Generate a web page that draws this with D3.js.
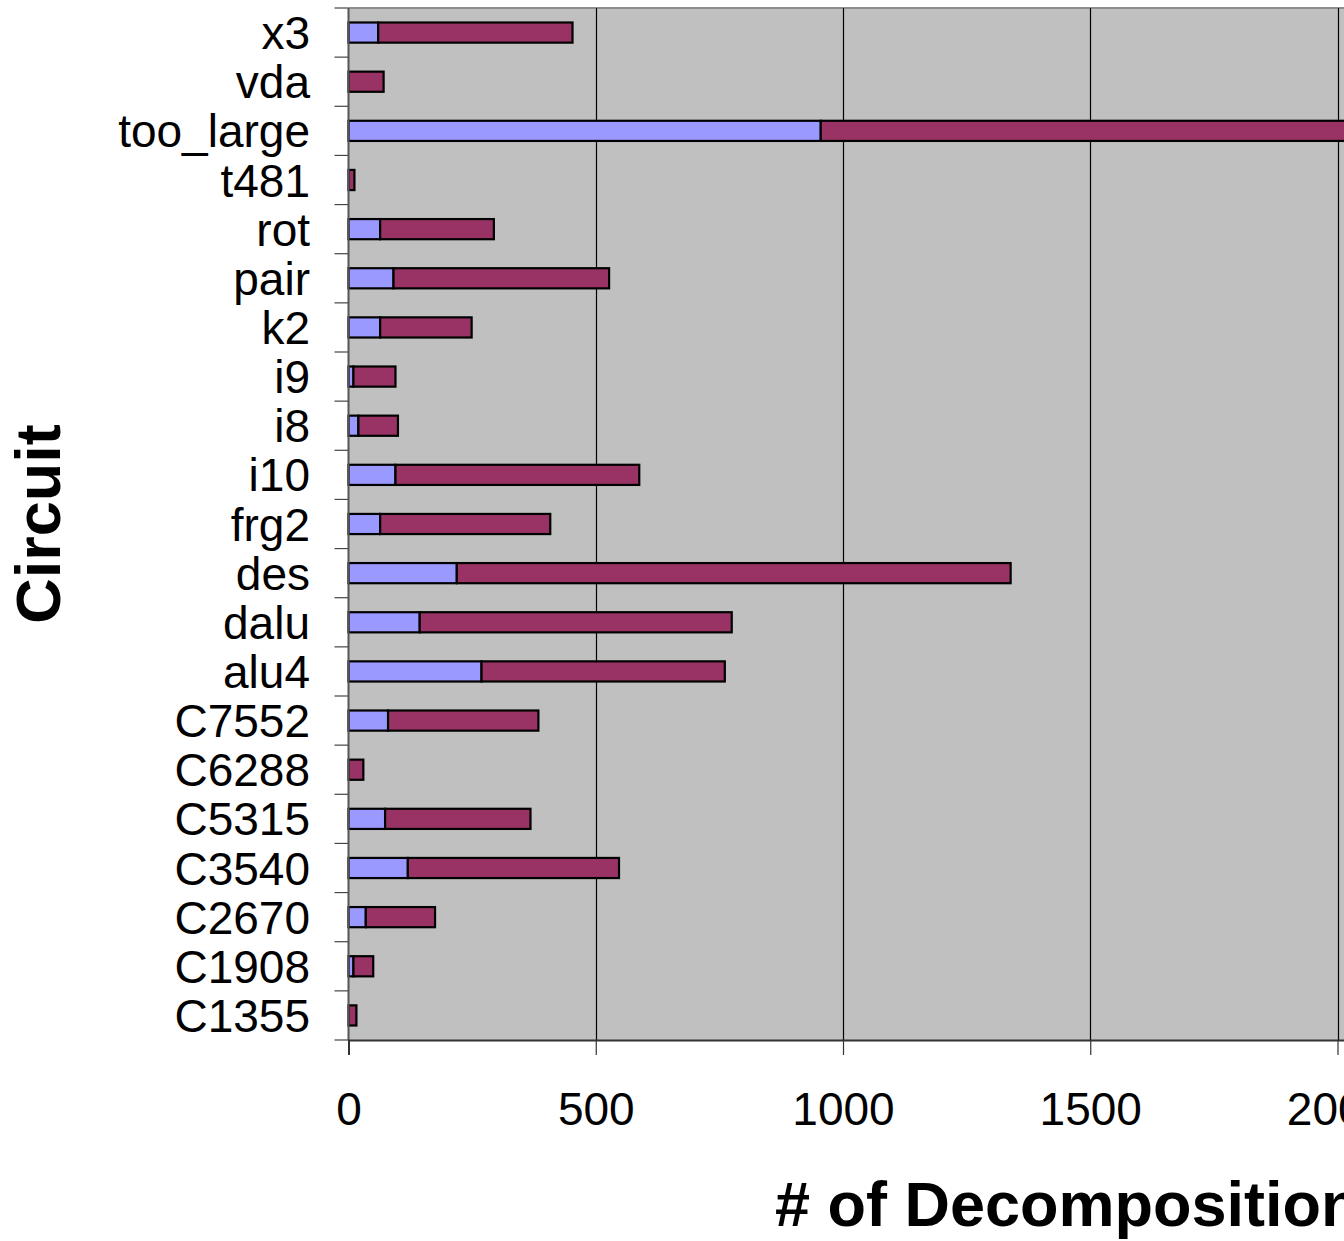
<!DOCTYPE html>
<html>
<head>
<meta charset="utf-8">
<script src="https://cdn.jsdelivr.net/npm/d3@7"></script>
<style>
  html, body { margin: 0; padding: 0; background: #ffffff; }
  svg { display: block; font-family: "Liberation Sans", Arial, sans-serif; }
</style>
</head>
<body>
<svg id="chart" width="1344" height="1241"></svg>
<script>
// Circuits, listed top to bottom
const circuits = ["x3", "vda", "too_large", "t481", "rot", "pair", "k2", "i9", "i8", "i10",
  "frg2", "des", "dalu", "alu4", "C7552", "C6288", "C5315", "C3540", "C2670", "C1908", "C1355"];

// First stacked segment (light blue)
const firstPart = [60, 0, 955, 0, 64, 91, 64, 10, 20, 95,
  64, 219, 144, 269, 80, 0, 74, 120, 35, 10, 0];

// Second stacked segment (plum), stacked after the first
const secondPart = [393, 71, 1500, 12, 230, 436, 185, 85, 80, 493,
  344, 1120, 631, 492, 304, 30, 294, 427, 140, 40, 16];

const xTicks = [0, 500, 1000, 1500, 2000, 2500, 3000];

const svg = d3.select("#chart");
const plot = { left: 348.5, top: 8, bottom: 1040, right: 1832 };

const x = d3.scaleLinear().domain([0, 3000]).range([plot.left, plot.right]);
const y = d3.scaleBand().domain(circuits).range([plot.top, plot.bottom])
  .paddingInner(0.59).paddingOuter(0.295);

// Plot background
svg.append("rect")
  .attr("x", plot.left).attr("y", plot.top)
  .attr("width", plot.right - plot.left).attr("height", plot.bottom - plot.top)
  .attr("fill", "#c0c0c0");

// Top frame line
svg.append("line")
  .attr("x1", plot.left).attr("x2", plot.right)
  .attr("y1", plot.top).attr("y2", plot.top)
  .attr("stroke", "#8c8c8c").attr("stroke-width", 2);

// Vertical gridlines
svg.append("g").selectAll("line")
  .data(xTicks.filter(d => d > 0))
  .join("line")
  .attr("x1", d => Math.round(x(d)) + 0.5).attr("x2", d => Math.round(x(d)) + 0.5)
  .attr("y1", plot.top).attr("y2", plot.bottom)
  .attr("stroke", "#000").attr("stroke-width", 1.2);

// Stacked bars
const stackData = circuits.map((c, i) => ({ circuit: c, first: firstPart[i], second: secondPart[i] }));
const stacked = d3.stack().keys(["first", "second"])(stackData);
const colors = { first: "#9999ff", second: "#993366" };

svg.append("g").selectAll("g")
  .data(stacked)
  .join("g")
  .attr("fill", d => colors[d.key])
  .selectAll("rect")
  .data(d => d.filter(p => p[1] - p[0] > 0))
  .join("rect")
  .attr("x", d => x(d[0]))
  .attr("y", d => y(d.data.circuit))
  .attr("width", d => x(d[1]) - x(d[0]))
  .attr("height", y.bandwidth())
  .attr("stroke", "#000")
  .attr("stroke-width", 2.2);

// Y axis: tick marks on band boundaries
const bounds = circuits.map(c => y(c) - y.step() * y.paddingInner() / 2);
bounds.push(plot.bottom);
const yAxis = svg.append("g");
yAxis.selectAll("line.tick")
  .data(bounds)
  .join("line")
  .attr("class", "tick")
  .attr("x1", plot.left - 14).attr("x2", plot.left)
  .attr("y1", d => d).attr("y2", d => d)
  .attr("stroke", "#444").attr("stroke-width", 1.2);
yAxis.append("line")
  .attr("x1", plot.left).attr("x2", plot.left)
  .attr("y1", plot.top).attr("y2", plot.bottom)
  .attr("stroke", "#555").attr("stroke-width", 2);
yAxis.selectAll("text")
  .data(circuits)
  .join("text")
  .attr("x", 310)
  .attr("y", d => y(d) + y.bandwidth() / 2)
  .attr("dy", "0.36em")
  .attr("text-anchor", "end")
  .attr("font-size", 46)
  .attr("fill", "#000")
  .text(d => d);

// X axis
const xAxis = d3.axisBottom(x).tickValues(xTicks).tickSize(15).tickPadding(37)
  .tickFormat(d3.format("d"));
const gx = svg.append("g")
  .attr("transform", `translate(0,${plot.bottom})`)
  .call(xAxis);
gx.select(".domain").attr("stroke", "#333").attr("stroke-width", 2);
gx.selectAll(".tick line").attr("stroke", "#333").attr("stroke-width", 1.2);
gx.selectAll(".tick text")
  .attr("font-size", 46)
  .attr("font-family", "\"Liberation Sans\", Arial, sans-serif")
  .attr("fill", "#000");

// Axis titles
svg.append("text")
  .attr("x", 775).attr("y", 1226)
  .attr("font-size", 63).attr("font-weight", "bold")
  .attr("fill", "#000")
  .text("# of Decompositions");

svg.append("text")
  .attr("transform", `translate(60,${(plot.top + plot.bottom) / 2}) rotate(-90)`)
  .attr("text-anchor", "middle")
  .attr("font-size", 63).attr("font-weight", "bold")
  .attr("fill", "#000")
  .text("Circuit");
</script>
</body>
</html>
